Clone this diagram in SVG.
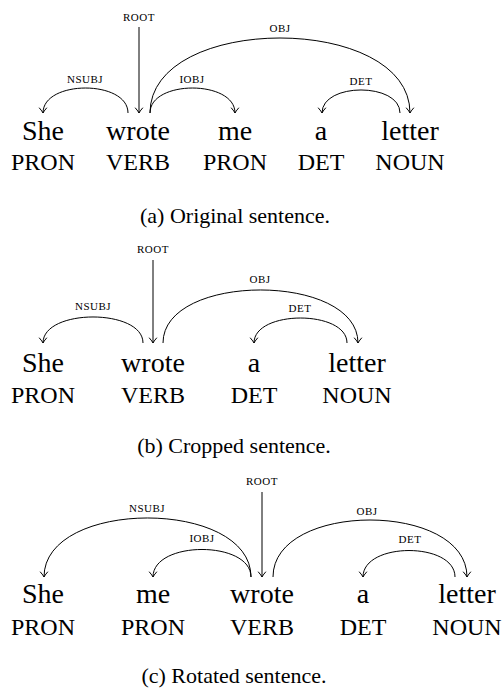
<svg xmlns="http://www.w3.org/2000/svg" width="504" height="693" viewBox="0 0 504 693">
<defs>
<marker id="arr" markerUnits="userSpaceOnUse" markerWidth="12" markerHeight="12" viewBox="-6 -6 12 12" refX="0" refY="0" orient="auto">
<path d="M-5,-3.6 Q-1.5,-0.6 0,0 Q-1.5,0.6 -5,3.6" fill="none" stroke="#000" stroke-width="1" stroke-linecap="round"/>
</marker>
</defs>
<style>
text{fill:#000;text-anchor:middle}
.w{font-size:28px}
.p{font-size:24px}
.c{font-size:22px}
.l{font-size:11px;letter-spacing:0.5px}
.e{fill:none;stroke:#000;stroke-width:1;marker-end:url(#arr)}
</style>
<rect width="504" height="693" fill="#fff"/>
<g font-family="'Liberation Serif', 'Times New Roman', Times, 'Nimbus Roman', 'DejaVu Serif', serif">

<!-- Panel (a) -->
<g id="a-she"><text class="w" x="43" y="140">She</text><text class="p" x="43" y="170">PRON</text></g>
<g id="a-wrote"><text class="w" x="138" y="140">wrote</text><text class="p" x="138" y="170">VERB</text></g>
<g id="a-me"><text class="w" x="235" y="140">me</text><text class="p" x="235" y="170">PRON</text></g>
<g id="a-a"><text class="w" x="321" y="140">a</text><text class="p" x="321" y="170">DET</text></g>
<g id="a-letter"><text class="w" x="410" y="140">letter</text><text class="p" x="410" y="170">NOUN</text></g>
<g id="a-edges">
<text class="l" x="139" y="21">ROOT</text>
<path class="e" d="M139,27 L139,113"/>
<path class="e" d="M128,113 C128,79.7 43,79.7 43,113"/>
<text class="l" x="85" y="83">NSUBJ</text>
<path class="e" d="M150,113 C150,79.7 235,79.7 235,113"/>
<text class="l" x="192" y="83">IOBJ</text>
<path class="e" d="M150,113 C150,13 410,13 410,113"/>
<text class="l" x="280" y="32">OBJ</text>
<path class="e" d="M400,113 C400,82.3 322,82.3 322,113"/>
<text class="l" x="361" y="85">DET</text>
</g>
<text id="cap-a" class="c" x="235" y="223">(a) Original sentence.</text>

<!-- Panel (b) -->
<g id="b-she"><text class="w" x="43" y="372">She</text><text class="p" x="43" y="403">PRON</text></g>
<g id="b-wrote"><text class="w" x="153" y="372">wrote</text><text class="p" x="153" y="403">VERB</text></g>
<g id="b-a"><text class="w" x="254" y="372">a</text><text class="p" x="254" y="403">DET</text></g>
<g id="b-letter"><text class="w" x="357" y="372">letter</text><text class="p" x="357" y="403">NOUN</text></g>
<g id="b-edges">
<text class="l" x="153" y="253">ROOT</text>
<path class="e" d="M153,260 L153,343"/>
<path class="e" d="M143,343 C143,308.3 43,308.3 43,343"/>
<text class="l" x="93" y="310">NSUBJ</text>
<path class="e" d="M163,343 C163,272.3 358,272.3 358,343"/>
<text class="l" x="260" y="283">OBJ</text>
<path class="e" d="M347,343 C347,309.7 254,309.7 254,343"/>
<text class="l" x="300" y="312">DET</text>
</g>
<text id="cap-b" class="c" x="234" y="453">(b) Cropped sentence.</text>

<!-- Panel (c) -->
<g id="c-she"><text class="w" x="43" y="603">She</text><text class="p" x="43" y="635">PRON</text></g>
<g id="c-me"><text class="w" x="153" y="603">me</text><text class="p" x="153" y="635">PRON</text></g>
<g id="c-wrote"><text class="w" x="262" y="603">wrote</text><text class="p" x="262" y="635">VERB</text></g>
<g id="c-a"><text class="w" x="363" y="603">a</text><text class="p" x="363" y="635">DET</text></g>
<g id="c-letter"><text class="w" x="467" y="603">letter</text><text class="p" x="467" y="635">NOUN</text></g>
<g id="c-edges">
<text class="l" x="262" y="485">ROOT</text>
<path class="e" d="M262,492 L262,577"/>
<path class="e" d="M251,577 C251,498.3 44,498.3 44,577"/>
<text class="l" x="147" y="512">NSUBJ</text>
<path class="e" d="M251,577 C251,540.3 153,540.3 153,577"/>
<text class="l" x="202" y="542">IOBJ</text>
<path class="e" d="M273,577 C273,501 467,501 467,577"/>
<text class="l" x="367" y="515">OBJ</text>
<path class="e" d="M455,577 C455,541.7 363,541.7 363,577"/>
<text class="l" x="410" y="543">DET</text>
</g>
<text id="cap-c" class="c" x="234" y="683">(c) Rotated sentence.</text>
</g>
</svg>
